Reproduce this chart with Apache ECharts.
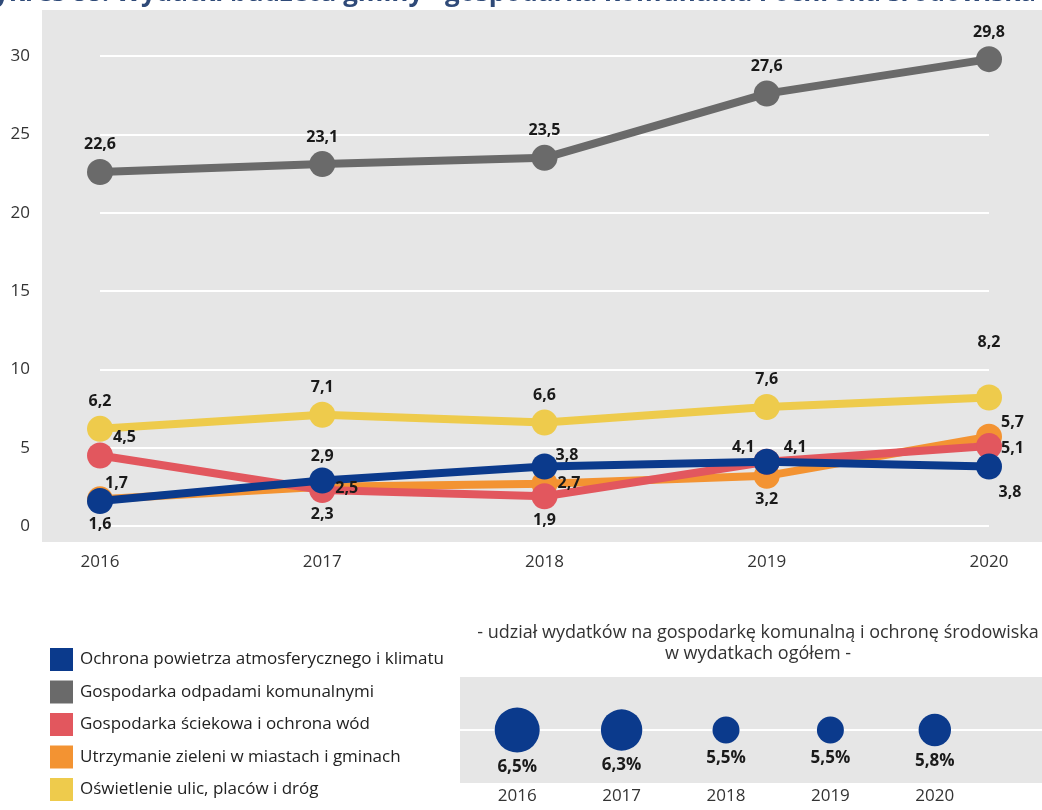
<!DOCTYPE html>
<html><head><meta charset="utf-8">
<script src="https://cdn.jsdelivr.net/npm/echarts@6/dist/echarts.min.js"></script>
<style>html,body{margin:0;padding:0;background:#fff}#c{width:1042px;height:810px}</style>
</head><body><div id="c"></div>
<script>
const years = ['2016','2017','2018','2019','2020'];
const yTicks = [0,5,10,15,20,25,30];
const seriesNames = [
  'Ochrona powietrza atmosferycznego i klimatu',
  'Gospodarka odpadami komunalnymi',
  'Gospodarka ściekowa i ochrona wód',
  'Utrzymanie zieleni w miastach i gminach',
  'Oświetlenie ulic, placów i dróg'
];
const powietrze = [1.6, 2.9, 3.8, 4.1, 3.8];
const odpady = [22.6, 23.1, 23.5, 27.6, 29.8];
const sciekowa = [4.5, 2.3, 1.9, 4.1, 5.1];
const zielen = [1.7, 2.5, 2.7, 3.2, 5.7];
const oswietlenie = [6.2, 7.1, 6.6, 7.6, 8.2];
const udzial = [6.5, 6.3, 5.5, 5.5, 5.8];
const subtitle = '- udział wydatków na gospodarkę komunalną i ochronę środowiska\nw wydatkach ogółem -';
const titleText = 'Wykres 88. Wydatki budżetu gminy - gospodarka komunalna i ochrona środowiska';

const colors = {
  powietrze: '#0b3a8c', odpady: '#6a6a6a', sciekowa: '#e2575e', zielen: '#f39332', oswietlenie: '#eecb4c'
};
// label placement (style)
const P = {
  powietrze: [['bottom',0,0,3],['top',0,0,3],['right',-2,-11,0],['left',1,-14,0],['bottom',21,2,3]],
  odpady: [['top',0,0,6],['top',0,0,6],['top',0,0,6],['top',0,0,6],['top',0,0,6]],
  sciekowa: [['right',0,-18,0],['bottom',0,0,3],['bottom',0,0,3],['right',4,-14,0],['right',-1,2,0]],
  zielen: [['right',-8,-16,0],['right',0,2,0],['right',0,0,0],['bottom',0,0,3],['right',-1,-14,0]],
  oswietlenie: [['top',0,0,6],['top',0,0,6],['top',0,0,6],['top',0,0,6],['top',0,-28,6]]
};
const fmt = v => String(v).replace('.', ',');
function mk(key, name, vals, z) {
  return {
    name: name, type: 'line', xAxisIndex: 0, yAxisIndex: 0, z: z,
    data: vals,
    symbol: 'circle', symbolSize: 26,
    lineStyle: { color: colors[key], width: 8 },
    itemStyle: { color: colors[key] },
    label: { show: false },
    emphasis: { disabled: true }
  };
}
function mkLabels(key, vals) {
  return {
    name: key + '_labels', type: 'line', xAxisIndex: 0, yAxisIndex: 0, z: 20,
    data: vals.map((v, i) => ({
      value: v,
      label: { position: P[key][i][0], offset: [P[key][i][1], P[key][i][2]], distance: P[key][i][3] }
    })),
    symbol: 'circle', symbolSize: 26, showSymbol: true,
    lineStyle: { color: 'rgba(0,0,0,0)', width: 0 },
    itemStyle: { color: 'rgba(0,0,0,0)', borderWidth: 0 },
    label: { show: true, formatter: p => fmt(p.value), fontSize: 16, fontWeight: 'bold', color: '#1a1a1a', fontFamily: 'Open Sans' },
    emphasis: { disabled: true },
    silent: true
  };
}
const chart = echarts.init(document.getElementById('c'));
chart.setOption({
  animation: false,
  textStyle: { fontFamily: 'Open Sans' },
  graphic: { elements: [
    { type: 'rect', z: -10, shape: { x: 42, y: 10, width: 1000, height: 532 }, style: { fill: '#e6e6e6' } },
    { type: 'rect', z: -10, shape: { x: 460, y: 677, width: 582, height: 106 }, style: { fill: '#e6e6e6' } },
    { type: 'rect', z: -9, shape: { x: 460, y: 729, width: 582, height: 2 }, style: { fill: '#ffffff' } },
    { type: 'text', z: 5, style: { x: 1036, y: 7, text: titleText, textAlign: 'right', textVerticalAlign: 'bottom', font: 'bold 26px "Open Sans"', fill: '#2f4a78' } },
    { type: 'text', z: 5, style: { x: 758, y: 622, text: subtitle, textAlign: 'center', textVerticalAlign: 'top', font: '18px "Open Sans"', fill: '#333', lineHeight: 21 } }
  ]},
  legend: {
    data: seriesNames, orient: 'vertical', left: 45, top: 643, icon: 'rect',
    itemWidth: 23, itemHeight: 23, itemGap: 9.5, selectedMode: false,
    textStyle: { fontSize: 17, color: '#222', fontFamily: 'Open Sans', padding: [0,0,0,2] }
  },
  grid: [
    { left: 100, right: 53, top: 56, bottom: 284 },
    { left: 465, right: 55, top: 677, bottom: 27 }
  ],
  xAxis: [
    { type: 'category', gridIndex: 0, data: years, boundaryGap: false,
      axisLine: { show: false }, axisTick: { show: false },
      axisLabel: { fontSize: 17, color: '#333', margin: 28 } },
    { type: 'category', gridIndex: 1, data: years, boundaryGap: true,
      axisLine: { show: false }, axisTick: { show: false },
      axisLabel: { fontSize: 17, color: '#333', margin: 5 } }
  ],
  yAxis: [
    { type: 'value', gridIndex: 0, min: yTicks[0], max: yTicks[yTicks.length-1], interval: yTicks[1]-yTicks[0],
      axisLine: { show: false }, axisTick: { show: false },
      axisLabel: { fontSize: 17, color: '#333', margin: 70 },
      splitLine: { lineStyle: { color: '#ffffff', width: 2 } } },
    { type: 'value', gridIndex: 1, min: 0, max: 2, show: false, splitLine: { show: false } }
  ],
  series: [
    mk('oswietlenie', seriesNames[4], oswietlenie, 2),
    mk('zielen', seriesNames[3], zielen, 3),
    mk('sciekowa', seriesNames[2], sciekowa, 4),
    mk('odpady', seriesNames[1], odpady, 5),
    mk('powietrze', seriesNames[0], powietrze, 6),
    mkLabels('oswietlenie', oswietlenie),
    mkLabels('zielen', zielen),
    mkLabels('sciekowa', sciekowa),
    mkLabels('odpady', odpady),
    mkLabels('powietrze', powietrze),
    {
      type: 'scatter', xAxisIndex: 1, yAxisIndex: 1,
      data: udzial.map((v, i) => [i, 1, v]),
      symbolSize: d => 18 * d[2] - 72,
      itemStyle: { color: '#0b3a8c', opacity: 1 },
      label: { show: true, position: 'bottom', distance: 6, formatter: p => fmt(p.value[2]) + '%',
        fontSize: 17, fontWeight: 'bold', color: '#1a1a1a', fontFamily: 'Open Sans' },
      emphasis: { disabled: true }
    }
  ]
});
</script></body></html>
